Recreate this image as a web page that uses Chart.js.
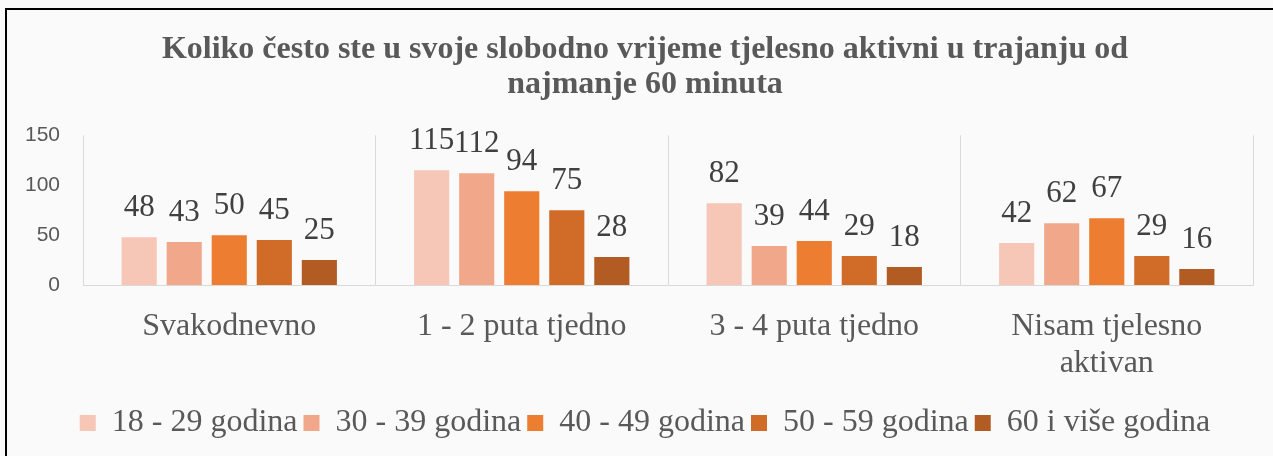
<!DOCTYPE html>
<html>
<head>
<meta charset="utf-8">
<script src="https://cdn.jsdelivr.net/npm/chart.js@4.4.1/dist/chart.umd.min.js"></script>
<style>
  html, body { margin: 0; padding: 0; overflow: hidden; background: #fff; }
  #wrap { position: relative; width: 1290px; height: 456px; }
</style>
</head>
<body>
<div id="wrap"><canvas id="chart"></canvas></div>
<script>
const title = ['Koliko često ste u svoje slobodno vrijeme tjelesno aktivni u trajanju od', 'najmanje 60 minuta'];
const categories = ['Svakodnevno', '1 - 2 puta tjedno', '3 - 4 puta tjedno', ['Nisam tjelesno', 'aktivan']];
const seriesNames = ['18 - 29 godina', '30 - 39 godina', '40 - 49 godina', '50 - 59 godina', '60 i više godina'];
const age18to29 = [48, 115, 82, 42];
const age30to39 = [43, 112, 39, 62];
const age40to49 = [50, 94, 44, 67];
const age50to59 = [45, 75, 29, 29];
const age60plus = [25, 28, 18, 16];
const yTicks = [0, 50, 100, 150];

const colors = ['#F6C6B6', '#F1A78A', '#ED7D31', '#D06B28', '#B25B22'];
const seriesValues = [age18to29, age30to39, age40to49, age50to59, age60plus];

// background + frame lines (left and top only are visible in the crop)
const framePlugin = {
  id: 'frame',
  beforeDraw(chart) {
    const c = chart.ctx;
    c.save();
    c.fillStyle = '#FAFAFA';
    c.fillRect(0, 0, chart.width, chart.height);
    c.fillStyle = '#000';
    c.fillRect(5, 8, 2, chart.height);
    c.fillRect(5, 8, chart.width, 2);
    c.restore();
  }
};

// value labels above the bars
const valueLabels = {
  id: 'valueLabels',
  afterDatasetsDraw(chart) {
    const c = chart.ctx;
    c.save();
    c.font = '31px "Liberation Serif"';
    c.fillStyle = '#404040';
    c.textAlign = 'center';
    c.textBaseline = 'bottom';
    chart.data.datasets.forEach((ds, i) => {
      chart.getDatasetMeta(i).data.forEach((bar, j) => {
        c.fillText(ds.data[j], bar.x, bar.y - 14);
      });
    });
    c.restore();
  }
};

new Chart(document.getElementById('chart'), {
  type: 'bar',
  data: {
    labels: categories,
    datasets: seriesNames.map((name, i) => ({
      label: name,
      data: seriesValues[i],
      backgroundColor: colors[i],
      borderWidth: 0,
      categoryPercentage: 0.77,
      barPercentage: 0.78
    }))
  },
  options: {
    responsive: true,
    maintainAspectRatio: false,
    animation: false,
    layout: { padding: { top: 0, left: 0, right: 0, bottom: 7 } },
    plugins: {
      title: {
        display: true,
        text: title,
        color: '#595959',
        font: { family: 'Liberation Serif', size: 32, weight: 'bold', lineHeight: 1.1 },
        padding: { top: 32, bottom: 33 }
      },
      legend: {
        position: 'bottom',
        labels: {
          color: '#595959',
          font: { family: 'Liberation Serif', size: 32 },
          boxWidth: 16,
          boxHeight: 16,
          padding: 6
        }
      },
      tooltip: { enabled: false }
    },
    scales: {
      x: {
        afterFit(s) { s.height = 116; },
        grid: { display: true, color: '#D9D9D9', drawTicks: false, offset: true },
        border: { display: true, color: '#D9D9D9' },
        ticks: {
          color: '#595959',
          font: { family: 'Liberation Serif', size: 32, lineHeight: 1.15 },
          padding: 23,
          maxRotation: 0,
          autoSkip: false
        }
      },
      y: {
        min: 0,
        max: 150,
        afterBuildTicks(s) { s.ticks = yTicks.map(v => ({ value: v })); },
        afterFit(s) { s.width = 83; },
        grid: { display: false, drawTicks: false },
        border: { display: false },
        ticks: {
          color: '#595959',
          font: { family: 'Liberation Sans', size: 21 },
          padding: 23
        }
      },
      yRight: {
        position: 'right',
        display: true,
        afterFit(s) { s.width = 37; },
        grid: { display: false, drawTicks: false },
        border: { display: false },
        ticks: { display: false }
      }
    }
  },
  plugins: [framePlugin, valueLabels]
});
</script>
</body>
</html>
